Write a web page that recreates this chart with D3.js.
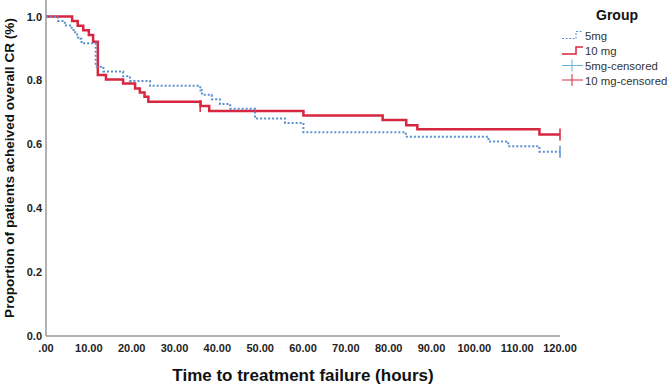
<!DOCTYPE html>
<html>
<head>
<meta charset="utf-8">
<script src="https://cdn.jsdelivr.net/npm/d3@7"></script>
<style>
  body { margin: 0; background: #fff; }
  text { font-family: "Liberation Sans", Arial, sans-serif; }
</style>
</head>
<body>
<div id="graph"></div>
<script>
const width = 671,
  height = 386;

// Kaplan-Meier steps: [time (hours), proportion]
const times5mg = [0, 2.8, 4.4, 6.0, 6.8, 7.5, 8.3, 11.6, 13.4, 18.0, 19.6, 24.3, 36.0, 36.4, 38.7, 40.6, 43.0, 48.8, 55.8, 60.1, 84.0, 103.3, 107.9, 115.2, 120];
const surv5mg = [1.0, 0.986, 0.972, 0.958, 0.944, 0.93, 0.916, 0.843, 0.828, 0.813, 0.798, 0.783, 0.769, 0.755, 0.741, 0.726, 0.711, 0.681, 0.667, 0.638, 0.624, 0.609, 0.594, 0.577, 0.577];
const times10mg = [0, 6.1, 7.4, 8.7, 10.0, 11.0, 12.1, 14.0, 18.0, 20.8, 21.9, 23.0, 23.9, 36.1, 38.1, 60.1, 78.6, 84.1, 86.7, 115.2, 120];
const surv10mg = [1.0, 0.986, 0.971, 0.957, 0.942, 0.921, 0.817, 0.803, 0.79, 0.775, 0.762, 0.749, 0.733, 0.72, 0.704, 0.69, 0.676, 0.66, 0.647, 0.631, 0.631];
const censor5mg = [[120, 0.577]];
const censor10mg = [[36.0, 0.72], [120, 0.631]];

const xTicks = [0, 10, 20, 30, 40, 50, 60, 70, 80, 90, 100, 110, 120];
const yTicks = [0, 0.2, 0.4, 0.6, 0.8, 1.0];
const legendLabels = ["5mg", "10 mg", "5mg-censored", "10 mg-censored"];

const blue = "#5a8fd0",
  red = "#d7263f",
  blueCens = "#6aaedc";

const svg = d3.select("#graph").append("svg")
  .attr("width", width)
  .attr("height", height);

const x = d3.scaleLinear().domain([0, 120]).range([46, 560]);
const y = d3.scaleLinear().domain([0, 1]).range([336, 16.5]);

// axes lines
svg.append("line")
  .attr("x1", x(0)).attr("x2", x(0))
  .attr("y1", 0).attr("y2", y(0))
  .attr("stroke", "#999").attr("stroke-width", 1.5);
svg.append("line")
  .attr("x1", x(0)).attr("x2", x(120))
  .attr("y1", y(0)).attr("y2", y(0))
  .attr("stroke", "#999").attr("stroke-width", 1.5);

svg.append("g")
  .selectAll("text")
  .data(yTicks)
  .join("text")
  .attr("x", 42)
  .attr("y", d => y(d) + 4)
  .attr("text-anchor", "end")
  .attr("font-size", 11)
  .attr("font-weight", "bold")
  .attr("fill", "#222")
  .text(d => d3.format(".1f")(d));

svg.append("g")
  .selectAll("text")
  .data(xTicks)
  .join("text")
  .attr("x", d => x(d))
  .attr("y", 352)
  .attr("text-anchor", "middle")
  .attr("font-size", 11)
  .attr("font-weight", "bold")
  .attr("fill", "#222")
  .text(d => d === 0 ? ".00" : d.toFixed(2));

// titles
svg.append("text")
  .attr("transform", "translate(14," + 168 + ") rotate(-90)")
  .attr("text-anchor", "middle")
  .attr("font-size", 13.6)
  .attr("font-weight", "bold")
  .attr("fill", "#111")
  .text("Proportion of patients acheived overall CR (%)");

svg.append("text")
  .attr("x", 303)
  .attr("y", 381)
  .attr("text-anchor", "middle")
  .attr("font-size", 17)
  .attr("font-weight", "bold")
  .attr("fill", "#111")
  .text("Time to treatment failure (hours)");

// curves
const line = d3.line()
  .x(d => x(d[0]))
  .y(d => y(d[1]))
  .curve(d3.curveStepAfter);

const data5 = d3.zip(times5mg, surv5mg);
const data10 = d3.zip(times10mg, surv10mg);

svg.append("path")
  .datum(data10)
  .attr("d", line)
  .attr("fill", "none")
  .attr("stroke", red)
  .attr("stroke-width", 2.5);

svg.append("path")
  .datum(data5)
  .attr("d", line)
  .attr("fill", "none")
  .attr("stroke", blue)
  .attr("stroke-width", 2)
  .attr("stroke-dasharray", "2,2");

function censorMarks(list, col) {
  svg.append("g")
    .selectAll("line")
    .data(list)
    .join("line")
    .attr("x1", d => x(d[0])).attr("x2", d => x(d[0]))
    .attr("y1", d => y(d[1]) - 6).attr("y2", d => y(d[1]) + 6)
    .attr("stroke", col)
    .attr("stroke-width", 1.5);
}
censorMarks(censor5mg, blue);
censorMarks(censor10mg, red);

// legend
const lg = svg.append("g");
lg.append("text")
  .attr("x", 617).attr("y", 20)
  .attr("text-anchor", "middle")
  .attr("font-size", 14)
  .attr("font-weight", "bold")
  .attr("fill", "#111")
  .text("Group");

const rowY = [35, 50.5, 65.5, 80];
lg.selectAll("text.item")
  .data(legendLabels)
  .join("text")
  .attr("class", "item")
  .attr("x", 585)
  .attr("y", (d, i) => rowY[i] + 4.5)
  .attr("font-size", 11.4)
  .attr("fill", "#333")
  .text(d => d);

const stepPath = cy => `M562,${cy + 3.5}H576V${cy - 3.5}H583`;
lg.append("path")
  .attr("d", stepPath(rowY[0]))
  .attr("fill", "none")
  .attr("stroke", blue)
  .attr("stroke-width", 1)
  .attr("stroke-dasharray", "2,1.5");
lg.append("path")
  .attr("d", stepPath(rowY[1]))
  .attr("fill", "none")
  .attr("stroke", red)
  .attr("stroke-width", 1.5);

[[rowY[2], blueCens], [rowY[3], red]].forEach(([cy, col]) => {
  lg.append("line")
    .attr("x1", 562).attr("x2", 583)
    .attr("y1", cy).attr("y2", cy)
    .attr("stroke", col).attr("stroke-width", 1);
  lg.append("line")
    .attr("x1", 572).attr("x2", 572)
    .attr("y1", cy - 6).attr("y2", cy + 6)
    .attr("stroke", col).attr("stroke-width", 1);
});
</script>
</body>
</html>
